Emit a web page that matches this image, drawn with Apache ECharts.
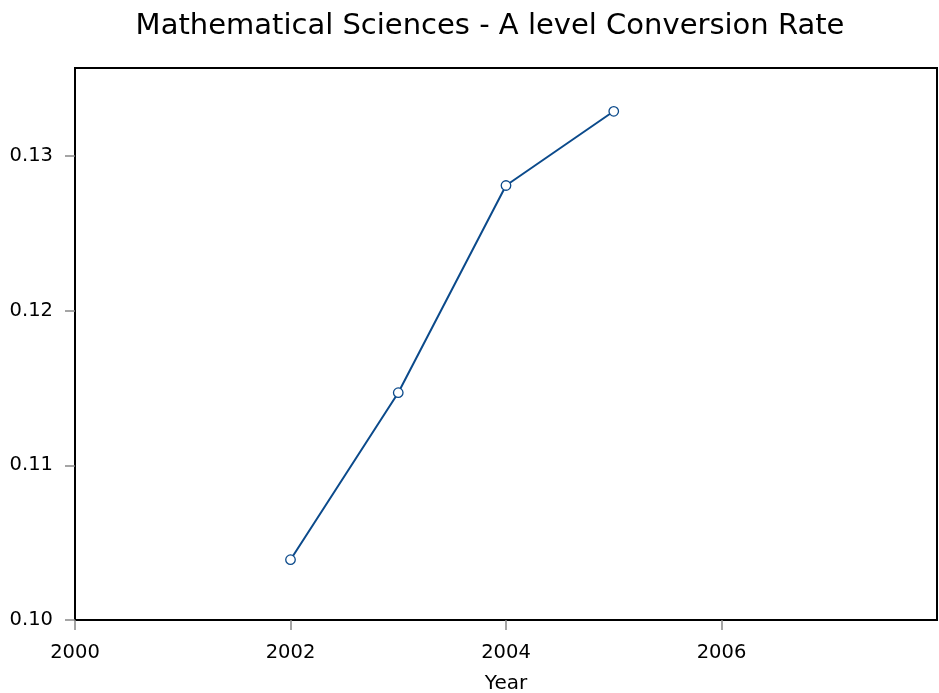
<!DOCTYPE html>
<html>
<head>
<meta charset="utf-8">
<script src="https://cdn.jsdelivr.net/npm/echarts@6/dist/echarts.min.js"></script>
<style>html,body{margin:0;padding:0;background:#fff}#c{width:939px;height:693px}</style>
</head>
<body>
<div id="c"></div>
<script>
const titleText = "Mathematical Sciences - A level Conversion Rate";
const xName = "Year";
const years = [2002, 2003, 2004, 2005];
const rates = [0.1039, 0.1147, 0.1281, 0.1329];
const xTicks = [2000, 2002, 2004, 2006];
const yTicks = [0.10, 0.11, 0.12, 0.13];

const chart = echarts.init(document.getElementById('c'), null, {renderer: 'canvas'});
const font = "'DejaVu Sans', sans-serif";
chart.setOption({
  animation: false,
  backgroundColor: '#fff',
  title: {
    text: titleText,
    left: 485,
    textAlign: 'center',
    top: 7,
    textStyle: {fontFamily: font, fontSize: 29, fontWeight: 'normal', color: '#000'}
  },
  grid: {
    left: 75, right: 2, top: 68, bottom: 73,
    outerBoundsMode: 'none', containLabel: false,
    show: true, borderColor: '#000', borderWidth: 2, backgroundColor: '#fff'
  },
  xAxis: {
    type: 'value',
    min: 2000, max: 2008, interval: 2,
    name: xName, nameLocation: 'middle', nameGap: 54,
    nameTextStyle: {fontFamily: font, fontSize: 20, color: '#000'},
    axisLine: {show: false},
    axisTick: {show: true, length: 10, lineStyle: {color: '#888', width: 1.5}, customValues: xTicks},
    axisLabel: {fontFamily: font, fontSize: 19.5, color: '#000', margin: 23, customValues: xTicks, formatter: v => String(v)},
    splitLine: {show: false}
  },
  yAxis: {
    type: 'value',
    min: 0.10, max: 0.1357, interval: 0.01,
    axisLine: {show: false},
    axisTick: {show: true, length: 10, lineStyle: {color: '#888', width: 1.5}, customValues: yTicks},
    axisLabel: {fontFamily: font, fontSize: 19.5, color: '#000', margin: 22, customValues: yTicks, formatter: v => v.toFixed(2)},
    splitLine: {show: false}
  },
  series: [{
    type: 'line',
    data: years.map((y, i) => [y, rates[i]]),
    symbol: 'circle', symbolSize: 9.5,
    lineStyle: {color: '#0b4a8b', width: 2},
    itemStyle: {color: '#fff', borderColor: '#0b4a8b', borderWidth: 1.3}
  }]
});
</script>
</body>
</html>
